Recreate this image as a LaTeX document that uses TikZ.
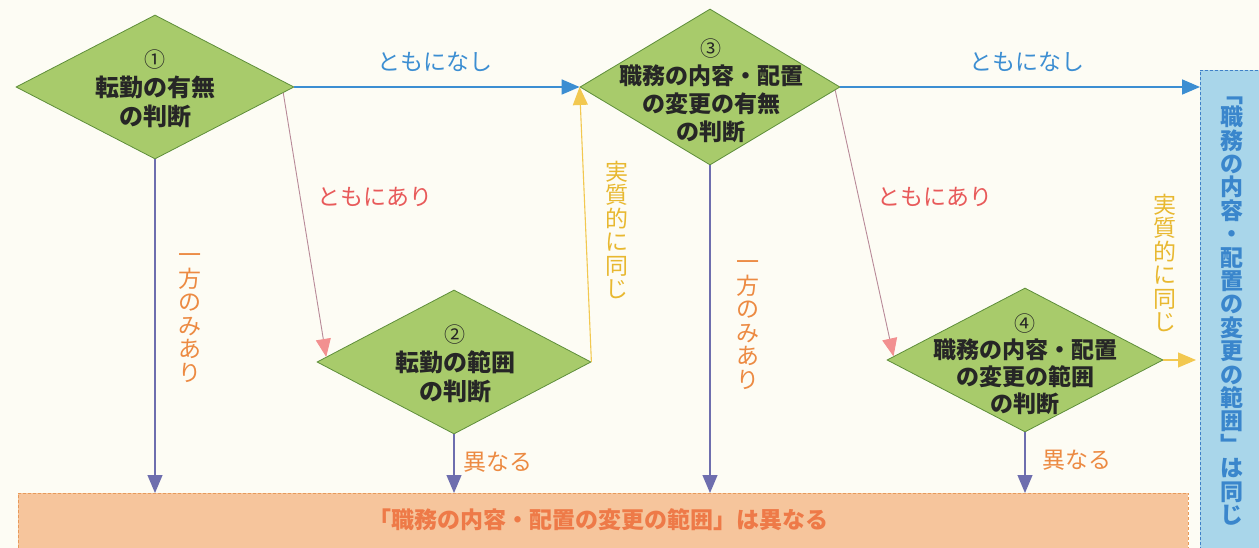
\documentclass[tikz,border=0pt]{standalone}
\usepackage{fontspec}
\newfontfamily\jp{Noto Sans CJK JP}
\usetikzlibrary{shapes.geometric,arrows.meta,calc}
\definecolor{paper}{HTML}{FDFCF4}
\definecolor{dgreen}{HTML}{A8CB6B}
\definecolor{dgreenline}{HTML}{5E8E3A}
\definecolor{cblue}{HTML}{3C8ED2}
\definecolor{cpinkline}{HTML}{B88A98}
\definecolor{cpink}{HTML}{F29090}
\definecolor{cred}{HTML}{E85A5A}
\definecolor{cyel}{HTML}{F2C850}
\definecolor{cgold}{HTML}{E8B830}
\definecolor{cpurple}{HTML}{6E6EAE}
\definecolor{corange}{HTML}{EC8A42}
\definecolor{obox}{HTML}{F6C59C}
\definecolor{oboxline}{HTML}{E89A5A}
\definecolor{oboxtext}{HTML}{EE7A48}
\definecolor{bbox}{HTML}{A9D6EA}
\definecolor{bboxline}{HTML}{3F80C8}
\definecolor{bboxtext}{HTML}{3A86CC}
\newcommand{\circnum}[1]{{\mdseries\fontsize{21}{21}\selectfont #1}}
\tikzset{
  decision/.style={shape=diamond, draw=dgreenline, line width=0.8pt, fill=dgreen, inner sep=0pt},
  dtext/.style={align=center, text=black!85, font=\jp\bfseries\fontsize{24}{29}\selectfont},
  dtextb/.style={align=center, text=black!85, font=\jp\bfseries\fontsize{23}{28}\selectfont},
  lbl/.style={font=\jp\fontsize{23}{24}\selectfont},
  vlbl/.style={align=center, font=\jp\fontsize{23}{23.5}\selectfont},
  tip/.style={-{Triangle[length=18pt,width=15pt,fill=#1,color=#1]}},
  bluearrow/.style={draw=cblue, line width=1.8pt, tip=cblue},
  pinkarrow/.style={draw=cpinkline, line width=0.9pt, tip=cpink},
  yelarrow/.style={draw=cyel, line width=1.1pt, tip=cyel},
  purparrow/.style={draw=cpurple, line width=1.1pt, tip=cpurple},
}
\begin{document}
\begin{tikzpicture}[x=1pt,y=-1pt]
\useasboundingbox (0,0) rectangle (1259,548);
\clip (0,0) rectangle (1259,548);
\fill[paper] (0,0) rectangle (1259,548);

% result boxes
\node[draw=none, fill=obox, minimum width=1170pt, minimum height=70pt, anchor=north west, inner sep=0pt] (ob) at (18,493) {};
\draw[oboxline, line width=0.9pt, dash pattern=on 3pt off 2pt] (ob.south west) -- (ob.north west) -- (ob.north east) -- (ob.south east);
\node[font=\jp\bfseries\fontsize{23}{24}\selectfont, text=oboxtext] (obt) at (598,520) {「職務の内容・配置の変更の範囲」は異なる};

\node[draw=none, fill=bbox, minimum width=70pt, minimum height=490pt, anchor=north west, inner sep=0pt] (bb) at (1200,70) {};
\draw[bboxline, line width=0.9pt, dash pattern=on 3pt off 2pt] (bb.south west) -- (bb.north west) -- (bb.north east);
\node[align=center, text=bboxtext, font=\jp\bfseries\fontsize{23}{23.4}\selectfont] (bbt) at (1232,311)
  {﹁\\職\\務\\の\\内\\容\\・\\配\\置\\の\\変\\更\\の\\範\\囲\\﹂\\は\\同\\じ};

% decisions
\node[decision, minimum width=278pt, minimum height=144pt] (d1) at (155,87) {};
\node[dtext] (t1) at (155,89) {\circnum{①}\\転勤の有無\\の判断};

\node[decision, minimum width=274pt, minimum height=144pt] (d2) at (454,362) {};
\node[dtext] (t2) at (455,364) {\circnum{②}\\転勤の範囲\\の判断};

\node[decision, minimum width=260pt, minimum height=156pt] (d3) at (710,87) {};
\node[dtextb] (t3) at (711,91) {\circnum{③}\\職務の内容・配置\\の変更の有無\\の判断};

\node[decision, minimum width=276pt, minimum height=144pt] (d4) at (1025,360) {};
\node[dtextb, font=\jp\bfseries\fontsize{23}{27}\selectfont] (t4) at (1025,364) {\circnum{④}\\職務の内容・配置\\の変更の範囲\\の判断};

\coordinate (y2end) at (1196,360);

% connectors
\draw[bluearrow] (d1.east) -- (d3.west);
\draw[bluearrow] (d3.east) -- (d3.east -| bb.west);
\draw[pinkarrow] ($(d1.east)!0.08!(d1.south)$) -- ($(d2.west)!0.07!(d2.north)$);
\draw[pinkarrow] ($(d3.east)!0.04!(d3.south)$) -- ($(d4.west)!0.05!(d4.north)$);
\draw[yelarrow] (d2.east) -- (d3.west);
\draw[yelarrow] (d4.east) -- (y2end);
\draw[purparrow] (d1.south) -- (d1.south |- ob.north);
\draw[purparrow] (d2.south) -- (d2.south |- ob.north);
\draw[purparrow] (d3.south) -- (d3.south |- ob.north);
\draw[purparrow] (d4.south) -- (d4.south |- ob.north);

% labels
\node[lbl, text=cblue] (l1) at (435,62) {ともになし};
\node[lbl, text=cblue] (l2) at (1027,62) {ともになし};
\node[lbl, text=cred] (l3) at (375,197) {ともにあり};
\node[lbl, text=cred] (l4) at (935,197) {ともにあり};
\node[lbl, text=corange] (l5) at (498,462) {異なる};
\node[lbl, text=corange] (l6) at (1077,460) {異なる};
\node[vlbl, text=corange] (l7) at (190,318) {一\\方\\の\\み\\あ\\り};
\node[vlbl, text=corange] (l8) at (748,325) {一\\方\\の\\み\\あ\\り};
\node[vlbl, text=cgold] (l9) at (617,230) {実\\質\\的\\に\\同\\じ};
\node[vlbl, text=cgold] (l10) at (1165,263) {実\\質\\的\\に\\同\\じ};
\end{tikzpicture}
\end{document}
